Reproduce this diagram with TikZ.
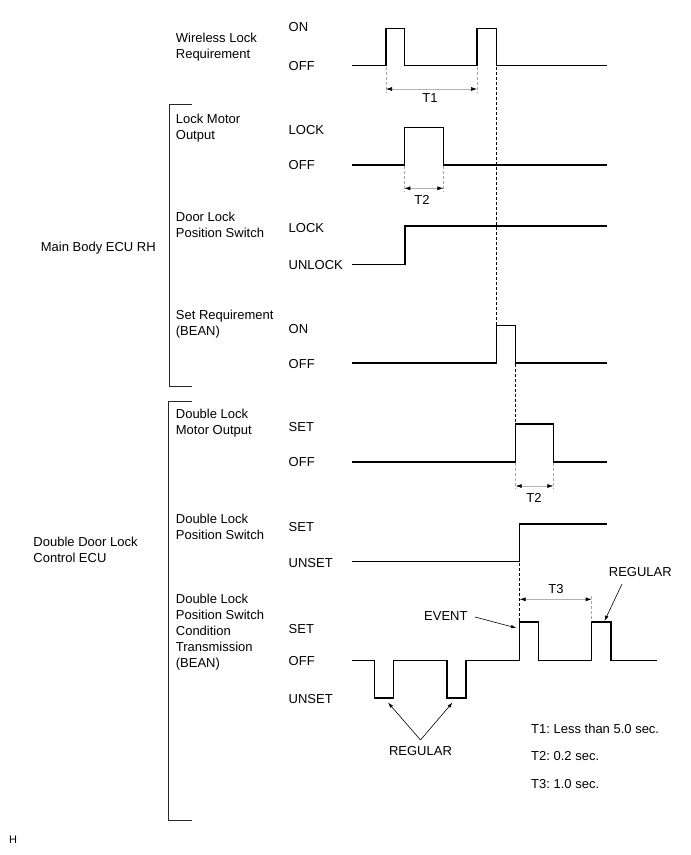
\documentclass[tikz,border=0pt]{standalone}
\usepackage{fontspec}
\setmainfont{Liberation Sans}
\usetikzlibrary{arrows.meta}
\newcommand{\twolines}[1]{\begin{tabular}[t]{@{}l@{}}#1\end{tabular}}
\frenchspacing
\begin{document}
\begin{tikzpicture}[x=1pt,y=-1pt,
  sig/.style={line width=1.1pt,black,line join=miter},
  guide/.style={line width=0.6pt,gray!70,dash pattern=on 3pt off 2pt},
  link/.style={line width=0.6pt,black,dash pattern=on 3pt off 2pt},
  dim/.style={line width=0.6pt,gray!60,{Latex[length=6pt,width=4pt,color=black]}-{Latex[length=6pt,width=4pt,color=black]}},
  bracketline/.style={line width=0.9pt,black!85},
  callout/.style={line width=0.6pt,black,-{Latex[length=5.5pt,width=3.5pt]}},
  lbl/.style={inner sep=0pt,anchor=base west,font=\fontsize{13}{16}\selectfont},
  clbl/.style={inner sep=0pt,anchor=base,font=\fontsize{13}{16}\selectfont}]
\useasboundingbox (0,0) rectangle (691,855);

% ---------- group brackets ----------
\draw[bracketline] (191.7,104) -- (169,104) -- (169,386) -- (191.7,386);
\draw[bracketline] (191.7,401.7) -- (168.5,401.7) -- (168.5,820.3) -- (191.7,820.3);
\node[lbl] (gMain) at (40.7,251.4) {Main Body ECU RH};
\node[lbl] (gDouble) at (33.3,546.4) {\twolines{Double Door Lock\\Control ECU}};

% ---------- signal names ----------
\node[lbl] (nWire) at (175.7,42) {\twolines{Wireless Lock\\Requirement}};
\node[lbl] (nMotor) at (175.7,123.7) {\twolines{Lock Motor\\Output}};
\node[lbl] (nDoor) at (175.7,221.4) {\twolines{Door Lock\\Position Switch}};
\node[lbl] (nSet) at (175.7,319) {\twolines{Set Requirement\\(BEAN)}};
\node[lbl] (nDMotor) at (175.7,418) {\twolines{Double Lock\\Motor Output}};
\node[lbl] (nDPos) at (175.7,523) {\twolines{Double Lock\\Position Switch}};
\node[lbl] (nCond) at (175.7,603) {\twolines{Double Lock\\Position Switch\\Condition\\Transmission\\(BEAN)}};

% ---------- level names ----------
\node[lbl] (l1a) at (288.5,31) {ON};
\node[lbl] (l1b) at (288.5,70.4) {OFF};
\node[lbl] (l2a) at (288.5,134.7) {LOCK};
\node[lbl] (l2b) at (288.5,169.7) {OFF};
\node[lbl] (l3a) at (288.5,232.4) {LOCK};
\node[lbl] (l3b) at (288.5,269.7) {UNLOCK};
\node[lbl] (l4a) at (288.5,333.7) {ON};
\node[lbl] (l4b) at (288.5,368) {OFF};
\node[lbl] (l5a) at (288.5,431.4) {SET};
\node[lbl] (l5b) at (288.5,466.4) {OFF};
\node[lbl] (l6a) at (288.5,531.4) {SET};
\node[lbl] (l6b) at (288.5,567) {UNSET};
\node[lbl] (l7a) at (288.5,633) {SET};
\node[lbl] (l7b) at (288.5,665.7) {OFF};
\node[lbl] (l7c) at (288.5,703) {UNSET};

% ---------- waveforms ----------
\draw[sig] (351.7,65.7) -- (386,65.7) -- (386,28.3) -- (404.7,28.3) -- (404.7,65.7)
  -- (477,65.7) -- (477,28.3) -- (496.7,28.3) -- (496.7,65.7) -- (606.7,65.7);
\draw[sig] (351.7,165) -- (404.3,165) -- (404.3,127.3) -- (443.3,127.3) -- (443.3,165) -- (606.7,165);
\draw[sig] (351.7,264.3) -- (405,264.3) -- (405,226) -- (606.7,226);
\draw[sig] (351.7,363) -- (496.7,363) -- (496.7,325.3) -- (515.7,325.3) -- (515.7,363) -- (606.7,363);
\draw[sig] (351.7,462) -- (515.7,462) -- (515.7,424) -- (553.3,424) -- (553.3,462) -- (606.7,462);
\draw[sig] (351.7,561.7) -- (519.7,561.7) -- (519.7,524) -- (606.7,524);
\draw[sig] (351.7,660.7) -- (374.7,660.7) -- (374.7,698) -- (393.3,698) -- (393.3,660.7)
  -- (447,660.7) -- (447,698) -- (466,698) -- (466,660.7)
  -- (519.7,660.7) -- (519.7,622) -- (538.7,622) -- (538.7,660.7)
  -- (591.7,660.7) -- (591.7,622) -- (611,622) -- (611,660.7) -- (656.7,660.7);

% ---------- dashed links ----------
\draw[link] (496.7,66.5) -- (496.7,325.3);
\draw[link] (515.7,363.8) -- (515.7,424);
\draw[link] (519.7,562.5) -- (519.7,622);

% ---------- T1 ----------
\draw[guide] (386,66.5) -- (386,92);
\draw[guide] (477,66.5) -- (477,92);
\draw[dim] (386,89) -- (477,89);
\node[clbl] (t1) at (430,102.7) {T1};

% ---------- T2 (lock motor) ----------
\draw[guide] (404.3,165.8) -- (404.3,191);
\draw[guide] (443.3,165.8) -- (443.3,191);
\draw[dim] (404.3,188.3) -- (443.3,188.3);
\node[clbl] (t2a) at (422,204.7) {T2};

% ---------- T2 (double lock motor) ----------
\draw[guide] (515.7,462.8) -- (515.7,489);
\draw[guide] (553.3,462.8) -- (553.3,489);
\draw[dim] (515.7,486) -- (553.3,486);
\node[clbl] (t2b) at (534,502) {T2};

% ---------- T3 ----------
\draw[guide] (591.7,596) -- (591.7,621);
\draw[dim] (519.7,599.3) -- (591.7,599.3);
\node[clbl] (t3) at (556,593.7) {T3};

% ---------- callouts ----------
\node[lbl] (ev) at (424,620.7) {EVENT};
\coordinate (evTip) at (516.5,628);
\draw[callout] (475,617) -- (evTip);

\node[lbl] (regTop) at (608.7,576.4) {REGULAR};
\coordinate (regTopTip) at (604.5,621);
\draw[callout] (622,584) -- (regTopTip);

\node[clbl] (regBot) at (420.5,755.7) {REGULAR};
\coordinate (regApex) at (420.5,740);
\coordinate (regL) at (388,702.5);
\coordinate (regR) at (452.5,702.5);
\draw[callout] (regApex) -- (regL);
\draw[callout] (regApex) -- (regR);

% ---------- legend ----------
\node[lbl] (lg1) at (531,733) {T1: Less than 5.0 sec.};
\node[lbl] (lg2) at (531,760.7) {T2: 0.2 sec.};
\node[lbl] (lg3) at (531,788) {T3: 1.0 sec.};

\node[lbl,font=\fontsize{11}{13}\selectfont] (hmark) at (9,843.5) {H};
\end{tikzpicture}
\end{document}
